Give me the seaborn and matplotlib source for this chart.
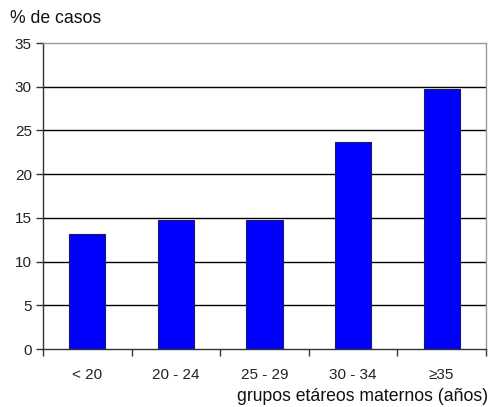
import matplotlib
matplotlib.use("Agg")
import matplotlib.pyplot as plt
import seaborn as sns
import pandas as pd
import numpy as np

categories = ["< 20", "20 - 24", "25 - 29", "30 - 34", "≥35"]
percent_cases = [13.2, 14.7, 14.7, 23.7, 29.7]
y_ticks = [0, 5, 10, 15, 20, 25, 30, 35]

sns.set_theme(style="white")
plt.rcParams["font.family"] = ["Liberation Sans", "DejaVu Sans"]

df = pd.DataFrame({"grupo": categories, "pct": percent_cases})

fig = plt.figure(figsize=(4.91, 4.07), dpi=100)
ax = fig.add_axes([0.0876, 0.1425, 0.9022, 0.7518])

sns.barplot(data=df, x="grupo", y="pct", ax=ax, color="#0000FF",
            width=0.41, edgecolor="#1a1a66", linewidth=0.8, saturation=1)

ax.set_ylim(0, 35)
ax.set_xlim(-0.5, len(categories) - 0.5)
ax.set_yticks(y_ticks)
ax.set_yticklabels([str(v) for v in y_ticks], fontsize=11, color="#222222")
ax.set_xticklabels(categories, fontsize=11, color="#222222")

# horizontal gridlines behind the bars
for v in y_ticks[1:-1]:
    ax.axhline(v, color="black", linewidth=1.0, zorder=0)
ax.set_axisbelow(True)

for side in ["top", "right"]:
    ax.spines[side].set_visible(True)
    ax.spines[side].set_color("#999999")
    ax.spines[side].set_linewidth(1.0)
for side in ["left", "bottom"]:
    ax.spines[side].set_color("#333333")
    ax.spines[side].set_linewidth(1.0)

# major ticks carry labels only; category boundaries get tick marks
ax.tick_params(axis="x", which="major", length=0, pad=14)
ax.set_xticks(np.arange(-0.5, len(categories)), minor=True)
ax.tick_params(axis="x", which="minor", length=5, width=1, color="#333333",
               direction="out", bottom=True)
ax.tick_params(axis="y", which="major", length=5, width=1, color="#333333",
               direction="out", left=True, pad=3)

ax.set_xlabel("")
ax.set_ylabel("")

fig.text(0.02, 0.955, "% de casos", fontsize=12.7, color="#111111",
         ha="left", va="center")
fig.text(0.994, 0.027, "grupos etáreos maternos (años)", fontsize=12.7,
         color="#111111", ha="right", va="center")

fig.savefig("out.png", dpi=100)
